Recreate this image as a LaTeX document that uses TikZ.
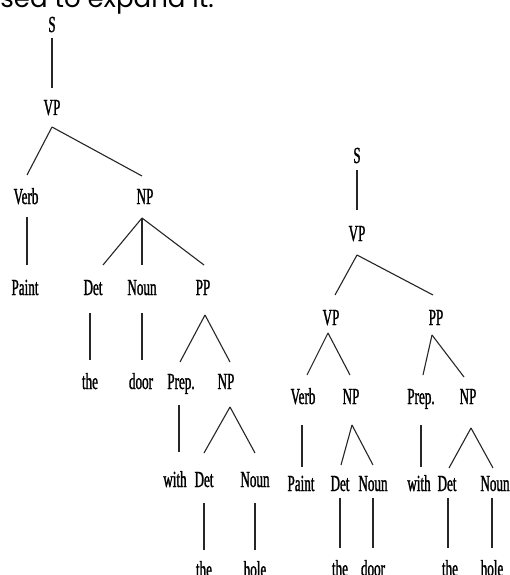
\documentclass[tikz,border=0pt]{standalone}
\usepackage{fontspec}
\setmainfont{Liberation Serif}[FakeStretch=0.57,FakeBold=1.2]
\newfontfamily\topfont{Poppins}
\usetikzlibrary{calc}
\newcommand\tedge[6]{\draw[tline] ($(#1.base)+(#2,#3)$) -- ($(#4.base)+(#5,#6)$);}
\begin{document}
\begin{tikzpicture}[x=1pt,y=-1pt,
  lbl/.style={anchor=base, inner sep=0pt, font=\fontsize{23}{23}\selectfont, text=black},
  tline/.style={draw=black!85, line width=1.1pt}]
\useasboundingbox[fill=white] (0,0) rectangle (510,575);
\node[anchor=base east, inner sep=0pt, font=\topfont\fontsize{26}{26}\selectfont] (cap) at (214,8) {sed to expand it.};
% ---------- tree 1 ----------
\node[lbl] (aS) at (52,32) {S};
\node[lbl] (aVP) at (52,115) {VP};
\node[lbl] (aVerb) at (26,204) {Verb};
\node[lbl] (aNP) at (145,204) {NP};
\node[lbl] (aPaint) at (25,295) {Paint};
\node[lbl] (aDet) at (93,295) {Det};
\node[lbl] (aNoun) at (142,295) {Noun};
\node[lbl] (aPP) at (203,295) {PP};
\node[lbl] (athe) at (90,389) {the};
\node[lbl] (adoor) at (141,389) {door};
\node[lbl] (aPrep) at (181,389) {Prep.};
\node[lbl] (aNPb) at (226,389) {NP};
\node[lbl] (awith) at (175,487) {with};
\node[lbl] (aDetb) at (204,487) {Det};
\node[lbl] (aNounb) at (255,487) {Noun};
\node[lbl] (atheb) at (204,577) {the};
\node[lbl] (ahole) at (255,577) {hole};
\tedge{aS}{0}{6}{aVP}{0}{-27}
\tedge{aVP}{0}{12}{aVerb}{1}{-29}
\tedge{aVP}{0}{12}{aNP}{-3}{-28}
\tedge{aVerb}{1}{13}{aPaint}{2}{-30}
\tedge{aNP}{-3}{14}{aDet}{10}{-30}
\tedge{aNP}{-3}{14}{aNoun}{0}{-30}
\tedge{aNP}{-3}{14}{aPP}{1}{-30}
\tedge{aDet}{-3}{18}{athe}{0}{-29}
\tedge{aNoun}{0}{18}{adoor}{1}{-29}
\tedge{aPP}{2}{20}{aPrep}{-1}{-27}
\tedge{aPP}{2}{20}{aNPb}{4}{-27}
\tedge{aPrep}{-2}{16}{awith}{4}{-35}
\tedge{aNPb}{4}{18}{aDetb}{0}{-34}
\tedge{aNPb}{4}{18}{aNounb}{0}{-34}
\tedge{aDetb}{0}{16}{atheb}{0}{-27}
\tedge{aNounb}{0}{16}{ahole}{0}{-27}
% ---------- tree 2 ----------
\node[lbl] (bS) at (357,163) {S};
\node[lbl] (bVP) at (357,241) {VP};
\node[lbl] (bVPb) at (331,325) {VP};
\node[lbl] (bPP) at (436,325) {PP};
\node[lbl] (bVerb) at (303,404) {Verb};
\node[lbl] (bNP) at (351,404) {NP};
\node[lbl] (bPrep) at (421,404) {Prep.};
\node[lbl] (bNPb) at (468,404) {NP};
\node[lbl] (bPaint) at (301,491) {Paint};
\node[lbl] (bDet) at (340,491) {Det};
\node[lbl] (bNoun) at (373,491) {Noun};
\node[lbl] (bwith) at (419,491) {with};
\node[lbl] (bDetb) at (447,491) {Det};
\node[lbl] (bNounb) at (495,491) {Noun};
\node[lbl] (bthe) at (340,576) {the};
\node[lbl] (bdoor) at (373,576) {door};
\node[lbl] (btheb) at (450,576) {the};
\node[lbl] (bhole) at (492,576) {hole};
\tedge{bS}{0}{7}{bVP}{0}{-31}
\tedge{bVP}{0}{14}{bVPb}{4}{-30}
\tedge{bVP}{0}{14}{bPP}{-3}{-30}
\tedge{bVPb}{-3}{8}{bVerb}{4}{-29}
\tedge{bVPb}{-3}{8}{bNP}{-1}{-29}
\tedge{bPP}{-4}{10}{bPrep}{2}{-29}
\tedge{bPP}{-4}{10}{bNPb}{-4}{-27}
\tedge{bVerb}{-1}{21}{bPaint}{1}{-24}
\tedge{bNP}{1}{21}{bDet}{1}{-26}
\tedge{bNP}{1}{21}{bNoun}{0}{-26}
\tedge{bPrep}{0}{21}{bwith}{2}{-24}
\tedge{bNPb}{3}{24}{bDetb}{2}{-23}
\tedge{bNPb}{3}{24}{bNounb}{-2}{-23}
\tedge{bDet}{0}{7}{bthe}{0}{-28}
\tedge{bNoun}{0}{7}{bdoor}{0}{-28}
\tedge{bDetb}{1}{7}{btheb}{-2}{-28}
\tedge{bNounb}{-3}{7}{bhole}{0}{-28}
\end{tikzpicture}
\end{document}
